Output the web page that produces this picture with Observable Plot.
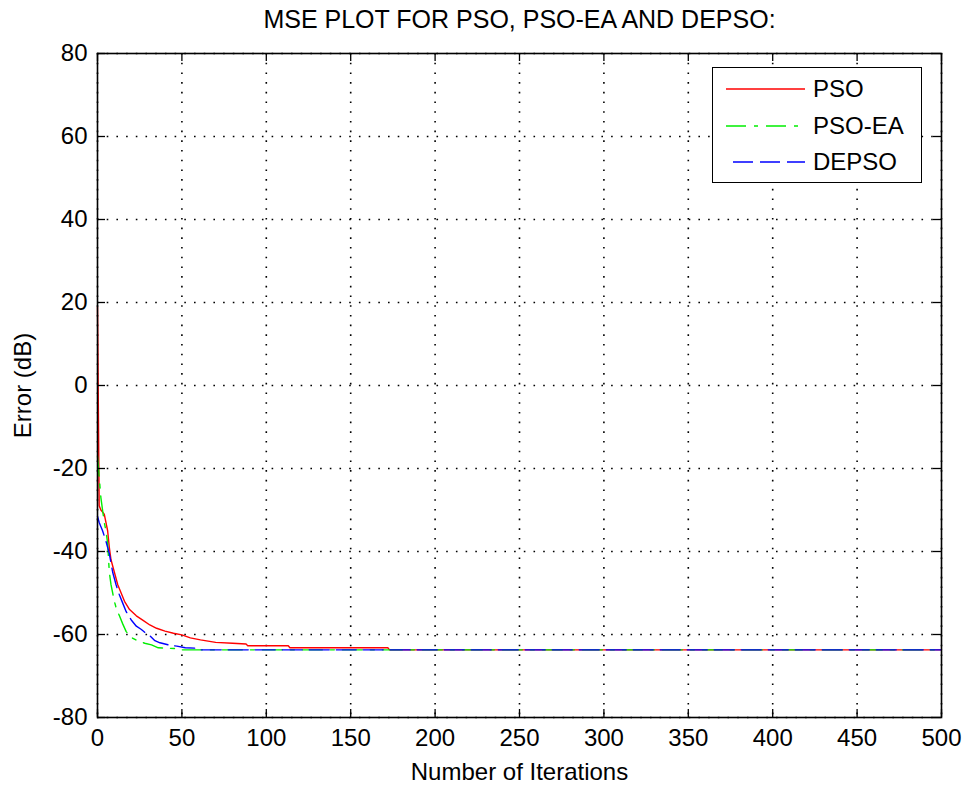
<!DOCTYPE html>
<html>
<head>
<meta charset="utf-8">
<script src="https://cdn.jsdelivr.net/npm/d3@7"></script>
<script src="https://cdn.jsdelivr.net/npm/@observablehq/plot@0.6"></script>
<style>
  html, body { margin: 0; padding: 0; background: #fff; }
  #wrap { position: relative; width: 963px; height: 785px; font-family: "Liberation Sans", Arial, sans-serif; color: #000; }
  #title { height: 40px; line-height: 38px; font-size: 25px; text-align: center; padding-left: 76px; box-sizing: border-box; white-space: nowrap; }
  #legend { position: absolute; left: 712px; top: 67px; width: 208px; height: 114px; border: 1.5px solid #000; background: #fff; }
  .lrow { position: absolute; left: 0; width: 208px; height: 30px; }
  .lrow svg { position: absolute; left: 13px; top: 10px; }
  .lrow span { position: absolute; left: 100px; top: 0; line-height: 30px; font-size: 24px; }
</style>
</head>
<body>
<div id="wrap">
  <div id="title">MSE PLOT FOR PSO, PSO-EA AND DEPSO:</div>
  <div id="chart"></div>
  <div id="legend"></div>
</div>
<script>
// ---- data ----
const xTicks = [0, 50, 100, 150, 200, 250, 300, 350, 400, 450, 500];
const yTicks = [-80, -60, -40, -20, 0, 20, 40, 60, 80];

const seriesNames = ["PSO", "PSO-EA", "DEPSO"];

const psoIter = [0, 1, 2, 4, 5, 6, 7, 8, 10, 12, 14, 16, 19, 23, 27, 31, 35, 40, 45, 50, 55, 61, 70, 80, 88, 89, 113, 114, 172, 173, 500];
const psoErr  = [19, -29, -30, -31, -33, -35, -39, -42, -45, -48, -50, -52, -54, -55.5, -56.6, -57.7, -58.5, -59.2, -59.7, -60.1, -60.8, -61.3, -61.9, -62.1, -62.3, -62.7, -62.7, -63.2, -63.2, -63.7, -63.7];

const psoeaIter = [0, 1, 2, 3, 4, 5, 6, 7, 8, 9, 10, 11, 13, 15, 17, 20, 24, 28, 32, 36, 47, 50, 500];
const psoeaErr  = [-17, -22, -27, -30, -33, -35, -38, -45, -48, -50, -52, -53.5, -55.5, -57.5, -59.3, -60.7, -61.6, -62.1, -62.5, -63.2, -63.4, -63.7, -63.7];

const depsoIter = [0, 1, 3, 5, 7, 9, 11, 13, 15, 17, 20, 23, 26, 29, 31, 34, 37, 42, 47, 52, 58, 60, 500];
const depsoErr  = [-31.5, -33, -35, -37.5, -40.5, -45, -48, -50.5, -52.5, -54.5, -56.5, -58, -58.8, -59.8, -60.3, -61.5, -62, -62.5, -62.8, -63.2, -63.3, -63.7, -63.7];

const colors = ["#ff0000", "#00ee00", "#0000ff"];
const dashes = [null, "20,8,4,8", "20,7"];

const toRows = (its, vals) => its.map((it, i) => ({it, v: vals[i]}));
const series = [toRows(psoIter, psoErr), toRows(psoeaIter, psoeaErr), toRows(depsoIter, depsoErr)];

// ---- layout ----
const W = 963, H = 745;
const mL = 97, mR = 22, mT = 13, mB = 68;
const plotW = W - mL - mR, plotH = H - mT - mB;
const tickLen = 8;
const fmt = d => String(d);

const chart = Plot.plot({
  width: W, height: H,
  marginLeft: mL, marginRight: mR, marginTop: mT, marginBottom: mB,
  style: {fontFamily: "Liberation Sans, Arial, sans-serif", fontSize: "24px", color: "#000", background: "#fff"},
  x: {domain: [0, 500]},
  y: {domain: [-80, 80]},
  marks: [
    Plot.gridX(xTicks, {stroke: "#000", strokeOpacity: 1, strokeWidth: 1.6, strokeDasharray: "1.6,8.1"}),
    Plot.gridY(yTicks, {stroke: "#000", strokeOpacity: 1, strokeWidth: 1.6, strokeDasharray: "1.6,8.1"}),
    ...series.map((d, i) => Plot.line(d, {x: "it", y: "v", stroke: colors[i], strokeWidth: 1.4, strokeDasharray: dashes[i]})),
    Plot.tickX(xTicks, {x: d => d, insetTop: plotH - tickLen, stroke: "#000", strokeWidth: 1.3}),
    Plot.tickX(xTicks, {x: d => d, insetBottom: plotH - tickLen, stroke: "#000", strokeWidth: 1.3}),
    Plot.tickY(yTicks, {y: d => d, insetRight: plotW - tickLen, stroke: "#000", strokeWidth: 1.3}),
    Plot.tickY(yTicks, {y: d => d, insetLeft: plotW - tickLen, stroke: "#000", strokeWidth: 1.3}),
    Plot.axisX({ticks: xTicks, tickFormat: fmt, tickSize: 0, tickPadding: 11, label: "Number of Iterations", labelAnchor: "center", labelArrow: "none", labelOffset: 62}),
    Plot.axisY({ticks: yTicks, tickFormat: fmt, tickSize: 0, tickPadding: 10, label: "Error (dB)", labelAnchor: "center", labelArrow: "none", labelOffset: 84}),
    Plot.frame({stroke: "#000", strokeWidth: 1.6})
  ]
});
document.getElementById("chart").appendChild(chart);

// ---- legend ----
const legend = document.getElementById("legend");
const rowY = [6, 43, 79];
seriesNames.forEach((name, i) => {
  const row = document.createElement("div");
  row.className = "lrow";
  row.style.top = rowY[i] + "px";
  const dash = dashes[i] ? ` stroke-dasharray="${dashes[i]}"` : "";
  const off = i === 2 ? ` stroke-dashoffset="-7"` : "";
  row.innerHTML = `<svg width="80" height="10"><line x1="0" y1="5" x2="79" y2="5" stroke="${colors[i]}" stroke-width="1.6"${dash}${off}/></svg><span>${name}</span>`;
  legend.appendChild(row);
});
</script>
</body>
</html>
